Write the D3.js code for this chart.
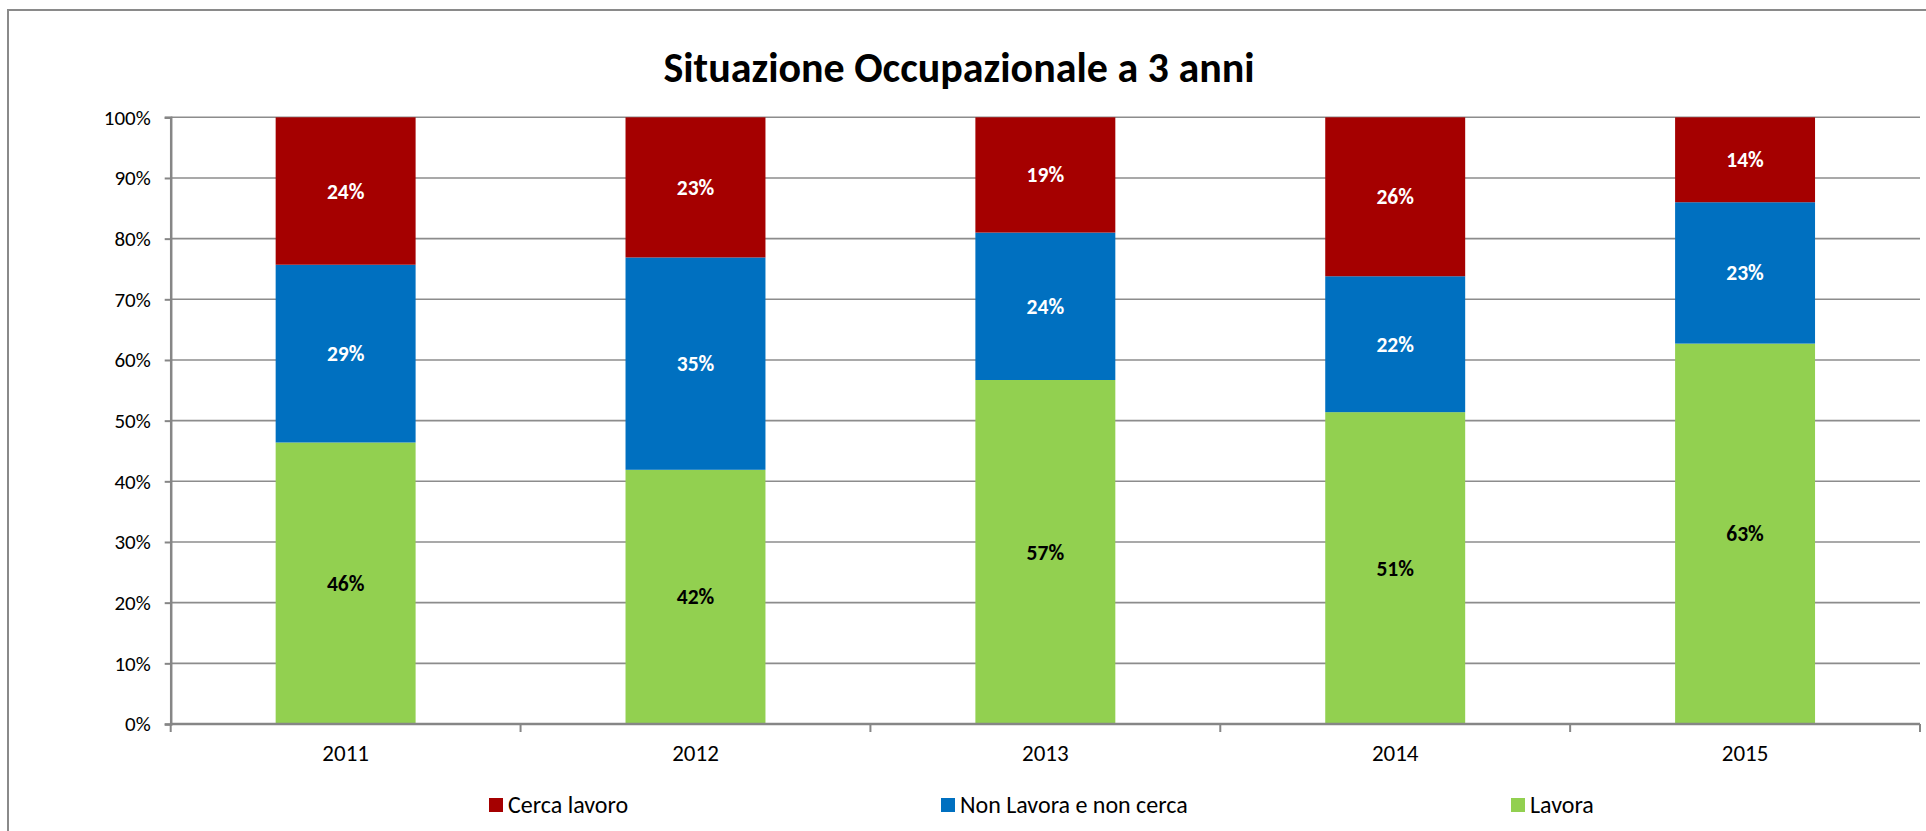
<html>
<head>
    <script src="https://cdnjs.cloudflare.com/ajax/libs/d3/7.8.5/d3.min.js"></script>
    <style>
        body { margin: 0; background: #fff; }
        svg { display: block; font-family: Carlito, Calibri, Lato, sans-serif; }
    </style>
</head>
<body>
    <script>
        // values, in percent
        var years = ["2011", "2012", "2013", "2014", "2015"];
        var lavora = [46.4, 41.9, 56.7, 51.4, 62.7];
        var nonLavora = [29.3, 35.0, 24.3, 22.4, 23.3];
        var cercaLavoro = [24.3, 23.1, 19.0, 26.2, 14.0];
        var yTicks = [0, 10, 20, 30, 40, 50, 60, 70, 80, 90, 100];

        var seriesNames = ["Lavora", "Non Lavora e non cerca", "Cerca lavoro"];
        var colors = { "Lavora": "#92D050", "Non Lavora e non cerca": "#0070C0", "Cerca lavoro": "#A50000" };
        var labelColors = { "Lavora": "#000", "Non Lavora e non cerca": "#fff", "Cerca lavoro": "#fff" };

        var width = 1926, height = 831;
        var font = "Carlito, Calibri, Lato, sans-serif";

        var svg = d3.select("body").append("svg")
            .attr("width", width)
            .attr("height", height);

        // outer chart border (runs off right and bottom)
        svg.append("rect")
            .attr("x", 8).attr("y", 10)
            .attr("width", 2000).attr("height", 1000)
            .attr("fill", "none")
            .attr("stroke", "#8a8a8a")
            .attr("stroke-width", 2);

        var rows = years.map(function (y, i) {
            return { year: y, "Lavora": lavora[i], "Non Lavora e non cerca": nonLavora[i], "Cerca lavoro": cercaLavoro[i] };
        });

        var x = d3.scaleBand()
            .domain(years)
            .range([170.7, 1920])
            .padding(0);

        var y = d3.scaleLinear()
            .domain([0, 100])
            .range([724, 117.3]);

        var barW = x.bandwidth() * 0.4;

        // gridlines
        svg.append("g")
            .selectAll("line")
            .data(yTicks)
            .join("line")
            .attr("x1", x.range()[0]).attr("x2", x.range()[1])
            .attr("y1", d => y(d)).attr("y2", d => y(d))
            .attr("stroke", "#8c8c8c")
            .attr("stroke-width", 1.6);

        var stack = d3.stack().keys(seriesNames)(rows);

        var layers = svg.append("g")
            .selectAll("g")
            .data(stack)
            .join("g")
            .attr("fill", d => colors[d.key]);

        layers.selectAll("rect")
            .data(d => d)
            .join("rect")
            .attr("x", d => x(d.data.year) + (x.bandwidth() - barW) / 2)
            .attr("width", barW)
            .attr("y", d => y(d[1]))
            .attr("height", d => y(d[0]) - y(d[1]));

        // data labels
        var fmt = d3.format(".0f");
        stack.forEach(function (layer) {
            svg.append("g")
                .selectAll("text")
                .data(layer)
                .join("text")
                .attr("x", d => x(d.data.year) + x.bandwidth() / 2)
                .attr("y", d => y((d[0] + d[1]) / 2))
                .attr("dy", "0.35em")
                .attr("text-anchor", "middle")
                .attr("font-size", 21.5)
                .attr("font-weight", "bold")
                .attr("fill", labelColors[layer.key])
                .text(d => fmt(d[1] - d[0]) + "%");
        });

        // y axis
        var yAxis = d3.axisLeft(y)
            .tickValues(yTicks)
            .tickSize(6)
            .tickPadding(14)
            .tickFormat(d => d + "%");

        var yg = svg.append("g")
            .attr("transform", "translate(" + x.range()[0] + ",0)")
            .call(yAxis);
        yg.select(".domain").attr("stroke", "#868686").attr("stroke-width", 2.5);
        yg.selectAll(".tick line").attr("stroke", "#868686").attr("stroke-width", 2);
        yg.selectAll("text").attr("font-size", 21).attr("fill", "#000")
            .style("font-family", font);

        // x axis: labels at band centres, ticks at band boundaries
        var xg = svg.append("g")
            .attr("transform", "translate(0," + y(0) + ")")
            .call(d3.axisBottom(x).tickSize(0).tickPadding(21));
        xg.select(".domain").remove();
        xg.selectAll("text").attr("font-size", 23).attr("fill", "#000")
            .style("font-family", font);

        svg.append("line")
            .attr("x1", x.range()[0]).attr("x2", x.range()[1])
            .attr("y1", y(0)).attr("y2", y(0))
            .attr("stroke", "#868686").attr("stroke-width", 2.5);

        var bounds = years.map(d => x(d)).concat([x.range()[1]]);
        svg.append("g")
            .selectAll("line")
            .data(bounds)
            .join("line")
            .attr("x1", d => d).attr("x2", d => d)
            .attr("y1", y(0)).attr("y2", y(0) + 8)
            .attr("stroke", "#868686").attr("stroke-width", 2);

        // title
        svg.append("text")
            .attr("x", 959)
            .attr("y", 82)
            .attr("text-anchor", "middle")
            .attr("font-size", 42)
            .attr("font-weight", "bold")
            .text("Situazione Occupazionale a 3 anni");

        // legend
        var legendX = [489, 941, 1511];
        var legendOrder = ["Cerca lavoro", "Non Lavora e non cerca", "Lavora"];
        var lg = svg.append("g")
            .selectAll("g")
            .data(legendOrder)
            .join("g")
            .attr("transform", (d, i) => "translate(" + legendX[i] + ",798)");
        lg.append("rect")
            .attr("width", 14).attr("height", 14)
            .attr("fill", d => colors[d]);
        lg.append("text")
            .attr("x", 19).attr("y", 14.5)
            .attr("font-size", 24)
            .text(d => d);
    </script>
</body>
</html>
